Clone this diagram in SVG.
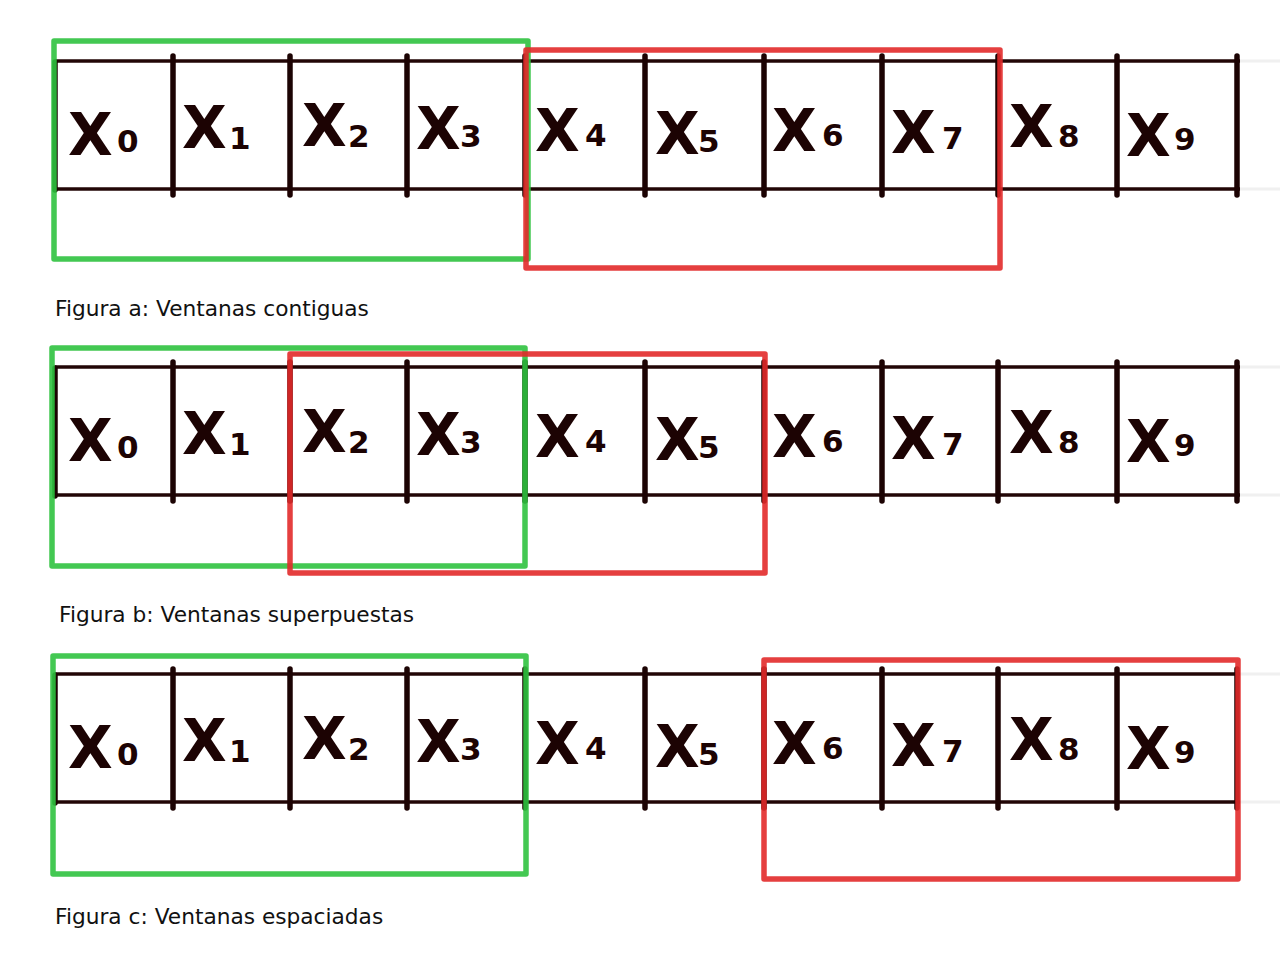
<svg xmlns="http://www.w3.org/2000/svg" width="1280" height="963" viewBox="0 0 1280 963">
<style>
.h{stroke:#220606;stroke-width:3.5;fill:none}
.hf{stroke:#f0f0f0;stroke-width:3;fill:none}
.v{stroke:#1c0303;stroke-width:5.5;stroke-linecap:round;fill:none}
.g{stroke:#2fc23f;stroke-opacity:0.9;stroke-width:5.5;fill:none;stroke-linejoin:round}
.r{stroke:#e22a2a;stroke-opacity:0.9;stroke-width:5.5;fill:none;stroke-linejoin:round}
.X{font-family:"DejaVu Sans",sans-serif;font-weight:bold;font-size:58px;fill:#1c0303}
.d{font-family:"DejaVu Sans",sans-serif;font-weight:bold;font-size:31px;fill:#1c0303}
.cap{font-family:"DejaVu Sans",sans-serif;font-size:21.7px;fill:#111}
</style>
<defs>
<g id="grid">
<line class="hf" x1="1240" y1="61" x2="1280" y2="61"/>
<line class="hf" x1="1240" y1="189" x2="1280" y2="189"/>
<line class="h" x1="55" y1="61" x2="1240" y2="61"/>
<line class="h" x1="55" y1="189" x2="1240" y2="189"/>
<line class="v" x1="55" y1="62" x2="55" y2="190"/>
<line class="v" x1="173" y1="56" x2="173" y2="195"/>
<line class="v" x1="290" y1="56" x2="290" y2="195"/>
<line class="v" x1="407" y1="56" x2="407" y2="195"/>
<line class="v" x1="525" y1="56" x2="525" y2="195"/>
<line class="v" x1="645" y1="56" x2="645" y2="195"/>
<line class="v" x1="764" y1="56" x2="764" y2="195"/>
<line class="v" x1="882" y1="56" x2="882" y2="195"/>
<line class="v" x1="998" y1="56" x2="998" y2="195"/>
<line class="v" x1="1117" y1="56" x2="1117" y2="195"/>
<line class="v" x1="1237" y1="56" x2="1237" y2="195"/>
</g>
<g id="labels">
<g id="c0"><text class="X" x="68" y="155">X</text><text class="d" x="117" y="152">0</text></g>
<g id="c1"><text class="X" x="182" y="148">X</text><text class="d" x="229" y="149">1</text></g>
<g id="c2"><text class="X" x="302" y="146">X</text><text class="d" x="348" y="147">2</text></g>
<g id="c3"><text class="X" x="416" y="149">X</text><text class="d" x="460" y="147">3</text></g>
<g id="c4"><text class="X" x="535" y="151">X</text><text class="d" x="585" y="146">4</text></g>
<g id="c5"><text class="X" x="655" y="154">X</text><text class="d" x="698" y="152">5</text></g>
<g id="c6"><text class="X" x="772" y="151">X</text><text class="d" x="822" y="146">6</text></g>
<g id="c7"><text class="X" x="891" y="153">X</text><text class="d" x="942" y="149">7</text></g>
<g id="c8"><text class="X" x="1009" y="147">X</text><text class="d" x="1058" y="147">8</text></g>
<g id="c9"><text class="X" x="1126" y="156">X</text><text class="d" x="1174" y="150">9</text></g>
</g>
</defs>

<g id="figura-a">
<use href="#grid"/>
<use href="#labels"/>
<rect id="a-green" class="g" x="54" y="41" width="474" height="218"/>
<rect id="a-red" class="r" x="526" y="50" width="474" height="218"/>
<text class="cap" x="55" y="316">Figura a: Ventanas contiguas</text>
</g>

<g id="figura-b" transform="translate(0,306)">
<use href="#grid"/>
<use href="#labels"/>
<rect id="b-green" class="g" x="52" y="42" width="473" height="218"/>
<rect id="b-red" class="r" x="290" y="48" width="475" height="219"/>
<text class="cap" x="59" y="316">Figura b: Ventanas superpuestas</text>
</g>

<g id="figura-c" transform="translate(0,613)">
<use href="#grid"/>
<use href="#labels"/>
<rect id="c-green" class="g" x="53" y="43" width="473" height="218"/>
<rect id="c-red" class="r" x="764" y="47" width="474" height="219"/>
<text class="cap" x="55" y="311">Figura c: Ventanas espaciadas</text>
</g>
</svg>
